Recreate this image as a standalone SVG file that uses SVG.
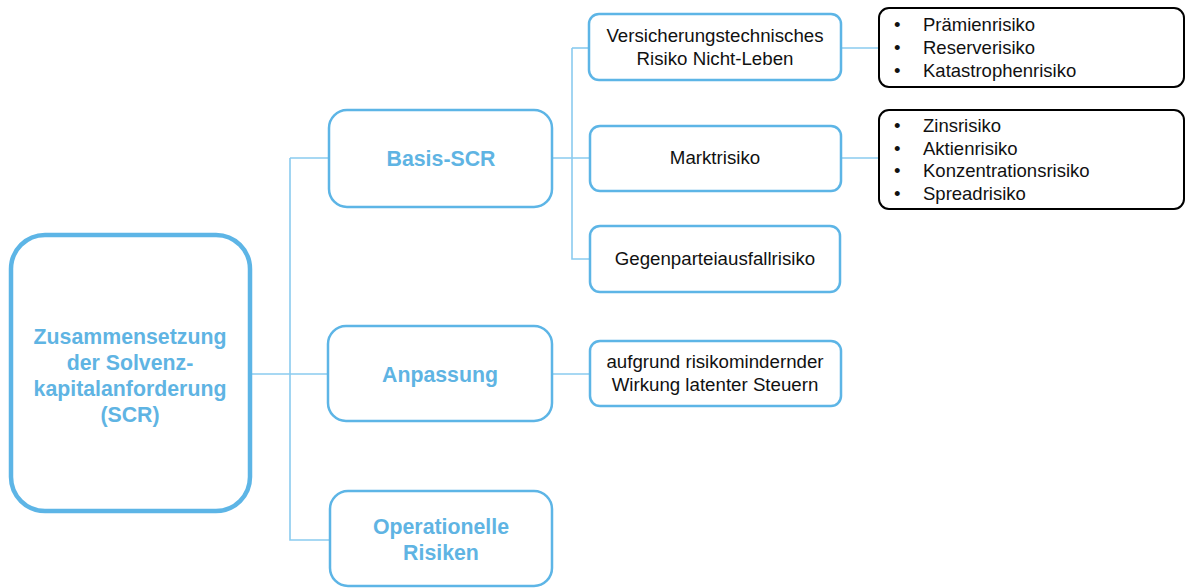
<svg xmlns="http://www.w3.org/2000/svg" width="1186" height="588" viewBox="0 0 1186 588">
<style>
.box{fill:#fff;stroke:#5DB5E6;stroke-width:2.5}
.main{fill:#fff;stroke:#5DB5E6;stroke-width:4.5}
.blk{fill:#fff;stroke:#000;stroke-width:2}
.con{fill:none;stroke:#8ACBEF;stroke-width:1.6}
.bt{font-family:"Liberation Sans",Arial,sans-serif;font-weight:bold;font-size:21.3px;fill:#5FB4E3;text-anchor:middle}
.t{font-family:"Liberation Sans",Arial,sans-serif;font-size:18.7px;fill:#111;text-anchor:middle}
.l{font-family:"Liberation Sans",Arial,sans-serif;font-size:18.5px;fill:#111}
</style>
<rect width="1186" height="588" fill="#fff"/>
<g id="connectors">
<path class="con" d="M250 374H329"/>
<path class="con" d="M290 158V540H330"/>
<path class="con" d="M290 158H329"/>
<path class="con" d="M553 158H590"/>
<path class="con" d="M572 48V259H590"/>
<path class="con" d="M572 48H589"/>
<path class="con" d="M552 374H590"/>
<path class="con" d="M841 48H878"/>
<path class="con" d="M841 158H878"/>
</g>
<g id="main">
<rect class="main" x="11" y="235" width="239" height="276" rx="34"/>
<text class="bt" x="130" y="344">Zusammensetzung</text>
<text class="bt" x="130" y="370">der Solvenz-</text>
<text class="bt" x="130" y="396">kapitalanforderung</text>
<text class="bt" x="130" y="422">(SCR)</text>
</g>
<g id="basis">
<rect class="box" x="329" y="110" width="223" height="97" rx="18"/>
<text class="bt" x="441" y="166">Basis-SCR</text>
</g>
<g id="anpassung">
<rect class="box" x="328" y="326" width="224" height="95" rx="18"/>
<text class="bt" x="440" y="382">Anpassung</text>
</g>
<g id="operationelle">
<rect class="box" x="330" y="491" width="222" height="95" rx="18"/>
<text class="bt" x="441" y="534">Operationelle</text>
<text class="bt" x="441" y="560">Risiken</text>
</g>
<g id="vt">
<rect class="box" x="589" y="14" width="252" height="66" rx="10"/>
<text class="t" x="715" y="42">Versicherungstechnisches</text>
<text class="t" x="715" y="65">Risiko Nicht-Leben</text>
</g>
<g id="markt">
<rect class="box" x="590" y="126" width="251" height="65" rx="10"/>
<text class="t" x="715" y="164">Marktrisiko</text>
</g>
<g id="gegen">
<rect class="box" x="590" y="226" width="250" height="66" rx="10"/>
<text class="t" x="715" y="265">Gegenparteiausfallrisiko</text>
</g>
<g id="aufgrund">
<rect class="box" x="590" y="341" width="251" height="65" rx="10"/>
<text class="t" x="715" y="368">aufgrund risikomindernder</text>
<text class="t" x="715" y="391">Wirkung latenter Steuern</text>
</g>
<g id="list1">
<rect class="blk" x="879" y="8" width="305" height="79" rx="10"/>
<text class="l" x="894" y="31">•</text><text class="l" x="923" y="31">Prämienrisiko</text>
<text class="l" x="894" y="54">•</text><text class="l" x="923" y="54">Reserverisiko</text>
<text class="l" x="894" y="77">•</text><text class="l" x="923" y="77">Katastrophenrisiko</text>
</g>
<g id="list2">
<rect class="blk" x="879" y="110" width="305" height="99" rx="10"/>
<text class="l" x="894" y="132">•</text><text class="l" x="923" y="132">Zinsrisiko</text>
<text class="l" x="894" y="155">•</text><text class="l" x="923" y="155">Aktienrisiko</text>
<text class="l" x="894" y="177">•</text><text class="l" x="923" y="177">Konzentrationsrisiko</text>
<text class="l" x="894" y="200">•</text><text class="l" x="923" y="200">Spreadrisiko</text>
</g>
</svg>
